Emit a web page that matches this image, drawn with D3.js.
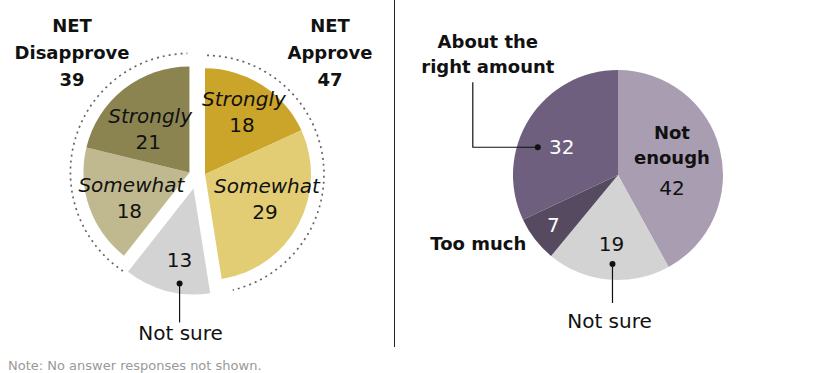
<!DOCTYPE html>
<html>
<head>
<meta charset="utf-8">
<script src="https://cdn.jsdelivr.net/npm/d3@7/dist/d3.min.js"></script>
<style>
  body { margin: 0; background: #fff; }
  svg { display: block; }
  text { font-family: "DejaVu Sans", sans-serif; }
</style>
</head>
<body>
<script>
// left pie: approval, clockwise from 12 o'clock
const approvalCats = ['Strongly', 'Somewhat', 'Not sure', 'Somewhat', 'Strongly'];
const approvalGroups = ['approve', 'approve', 'unsure', 'disapprove', 'disapprove'];
const approvalVals = [18, 29, 13, 18, 21];
const netNames = ['Disapprove', 'Approve'];
const netVals = [39, 47];

// right pie: amount, clockwise from 12 o'clock
const amountCats = ['Not enough', 'Not sure', 'Too much', 'About the right amount'];
const amountVals = [42, 19, 7, 32];

const noteText = 'Note: No answer responses not shown.';

const approvalColors = ['#cba42a', '#e3cd74', '#d3d3d3', '#c0b98f', '#8b8451'];
const amountColors = ['#a99db1', '#d3d3d3', '#564a61', '#6d5f7d'];

const W = 840, H = 373;
const svg = d3.select('body').append('svg').attr('width', W).attr('height', H);

const pie = d3.pie().sort(null).value(d => d);
const deg = Math.PI / 180;
const polar = (a, r) => [r * Math.sin(a), -r * Math.cos(a)];

// ---------- left pie ----------
const cxL = 197, cyL = 175, rL = 106;
const arcsL = pie(approvalVals);
const explode = { approve: 8, unsure: 14, disapprove: 8 };

// angle range of each group
const groupRange = {};
arcsL.forEach((a, i) => {
  const g = approvalGroups[i];
  if (!groupRange[g]) groupRange[g] = [a.startAngle, a.endAngle];
  groupRange[g][1] = a.endAngle;
});
const groupOffset = {};
Object.keys(groupRange).forEach(g => {
  const mid = (groupRange[g][0] + groupRange[g][1]) / 2;
  groupOffset[g] = polar(mid, explode[g]);
});

const arcL = d3.arc().innerRadius(0).outerRadius(rL);
const left = svg.append('g').attr('transform', `translate(${cxL},${cyL})`);

left.selectAll('path.slice')
  .data(arcsL)
  .enter()
  .append('path')
  .attr('class', 'slice')
  .attr('transform', (d, i) => `translate(${groupOffset[approvalGroups[i]]})`)
  .attr('d', arcL)
  .attr('fill', (d, i) => approvalColors[i]);

// dotted outlines round the two NET groups
const dotR = 119;
[['approve', 1 * deg, -4.4 * deg], ['disapprove', -4.2 * deg, -1 * deg]].forEach(([g, p0, p1]) => {
  const p = d3.path();
  p.arc(0, 0, dotR, groupRange[g][0] + p0 - Math.PI / 2, groupRange[g][1] + p1 - Math.PI / 2);
  left.append('path')
    .attr('transform', `translate(${groupOffset[g]})`)
    .attr('d', p.toString())
    .attr('fill', 'none')
    .attr('stroke', '#666')
    .attr('stroke-width', 1.7)
    .attr('stroke-dasharray', '2,4');
});

// slice labels (centroid at a fraction of the radius, then a small nudge)
const labelFracL = [0.68, 0.62, 0.71, 0.6, 0.6];
const nudgeL = [[0, -2], [4, -6], [5, -1], [2, 5], [0, 7]];
arcsL.forEach((a, i) => {
  const g = approvalGroups[i];
  const mid = (a.startAngle + a.endAngle) / 2;
  const [px, py] = polar(mid, rL * labelFracL[i]);
  const x = px + groupOffset[g][0] + nudgeL[i][0], y = py + groupOffset[g][1] + nudgeL[i][1];
  if (g === 'unsure') {
    left.append('text').attr('x', x).attr('y', y + 7)
      .attr('text-anchor', 'middle').attr('font-size', 20).attr('fill', '#111')
      .text(approvalVals[i]);
    // callout
    left.append('circle').attr('cx', x).attr('cy', y + 23).attr('r', 3).attr('fill', '#111');
    left.append('line').attr('x1', x).attr('x2', x).attr('y1', y + 23).attr('y2', y + 62)
      .attr('stroke', '#111').attr('stroke-width', 1.2);
    left.append('text').attr('x', x + 1).attr('y', y + 80)
      .attr('text-anchor', 'middle').attr('font-size', 20).attr('fill', '#111')
      .text(approvalCats[i]);
  } else {
    left.append('text').attr('x', x).attr('y', y - 6)
      .attr('text-anchor', 'middle').attr('font-size', 20).attr('font-style', 'italic')
      .attr('fill', '#111').text(approvalCats[i]);
    left.append('text').attr('x', x - 2).attr('y', y + 20)
      .attr('text-anchor', 'middle').attr('font-size', 20).attr('fill', '#111')
      .text(approvalVals[i]);
  }
});

// NET headings
[[netNames[0], netVals[0], 72], [netNames[1], netVals[1], 330]].forEach(([name, v, x]) => {
  const t = svg.append('text').attr('text-anchor', 'middle')
    .attr('font-size', 18).attr('font-weight', 'bold').attr('fill', '#111');
  ['NET', name, v].forEach((s, k) => {
    t.append('tspan').attr('x', x).attr('y', 32 + k * 27).text(s);
  });
});

// divider
svg.append('line').attr('x1', 394.5).attr('x2', 394.5).attr('y1', 0).attr('y2', 347)
  .attr('stroke', '#222').attr('stroke-width', 1);

// ---------- right pie ----------
const cxR = 618, cyR = 175, rR = 105;
const arcsR = pie(amountVals);
const arcR = d3.arc().innerRadius(0).outerRadius(rR);
const right = svg.append('g').attr('transform', `translate(${cxR},${cyR})`);

right.selectAll('path.slice')
  .data(arcsR)
  .enter()
  .append('path')
  .attr('class', 'slice')
  .attr('d', arcR)
  .attr('fill', (d, i) => amountColors[i]);

const labelFracR = [0.53, 0.66, 0.78, 0.6];
const nudgeR = [[0, 0], [0, 0], [0, 0], [-3, 6]];
const numColor = ['#111', '#111', '#fff', '#fff'];
const posR = arcsR.map((a, i) => {
  const [px, py] = polar((a.startAngle + a.endAngle) / 2, rR * labelFracR[i]);
  return [px + nudgeR[i][0], py + nudgeR[i][1]];
});

// Not enough
{
  const [x, y] = posR[0];
  const t = right.append('text').attr('text-anchor', 'middle').attr('font-size', 18)
    .attr('font-weight', 'bold').attr('fill', '#111');
  t.append('tspan').attr('x', x).attr('y', y - 22).text('Not');
  t.append('tspan').attr('x', x).attr('y', y + 3).text('enough');
  right.append('text').attr('x', x).attr('y', y + 34).attr('text-anchor', 'middle')
    .attr('font-size', 20).attr('fill', numColor[0]).text(amountVals[0]);
}
// Not sure
{
  const [x, y] = posR[1];
  right.append('text').attr('x', x).attr('y', y + 7).attr('text-anchor', 'middle')
    .attr('font-size', 20).attr('fill', numColor[1]).text(amountVals[1]);
  right.append('circle').attr('cx', x + 1).attr('cy', y + 20).attr('r', 3).attr('fill', '#111');
  right.append('line').attr('x1', x + 1).attr('x2', x + 1).attr('y1', y + 20).attr('y2', y + 59)
    .attr('stroke', '#111').attr('stroke-width', 1.2);
  right.append('text').attr('x', x - 2).attr('y', y + 84).attr('text-anchor', 'middle')
    .attr('font-size', 20).attr('fill', '#111').text(amountCats[1]);
}
// Too much
{
  const [x, y] = posR[2];
  right.append('text').attr('x', x).attr('y', y + 7).attr('text-anchor', 'middle')
    .attr('font-size', 20).attr('fill', numColor[2]).text(amountVals[2]);
  right.append('text').attr('x', x - 27).attr('y', y + 25).attr('text-anchor', 'end')
    .attr('font-size', 18).attr('font-weight', 'bold').attr('fill', '#111').text(amountCats[2]);
}
// About the right amount
{
  const [x, y] = posR[3];
  right.append('text').attr('x', x).attr('y', y + 7).attr('text-anchor', 'middle')
    .attr('font-size', 20).attr('fill', numColor[3]).text(amountVals[3]);
  const dx = x - 24, dy = y;
  right.append('circle').attr('cx', dx).attr('cy', dy).attr('r', 3).attr('fill', '#111');
  right.append('path')
    .attr('d', `M${dx},${dy}H${dx - 65}V${dy - 65}`)
    .attr('fill', 'none').attr('stroke', '#111').attr('stroke-width', 1.2);
  const t = right.append('text').attr('text-anchor', 'middle').attr('font-size', 18)
    .attr('font-weight', 'bold').attr('fill', '#111');
  t.append('tspan').attr('x', dx - 50).attr('y', dy - 99).text('About the');
  t.append('tspan').attr('x', dx - 50).attr('y', dy - 74).text('right amount');
}

// note at the bottom edge
svg.append('text').attr('x', 8).attr('y', 370).attr('font-size', 13).attr('fill', '#999')
  .text(noteText);
</script>
</body>
</html>
